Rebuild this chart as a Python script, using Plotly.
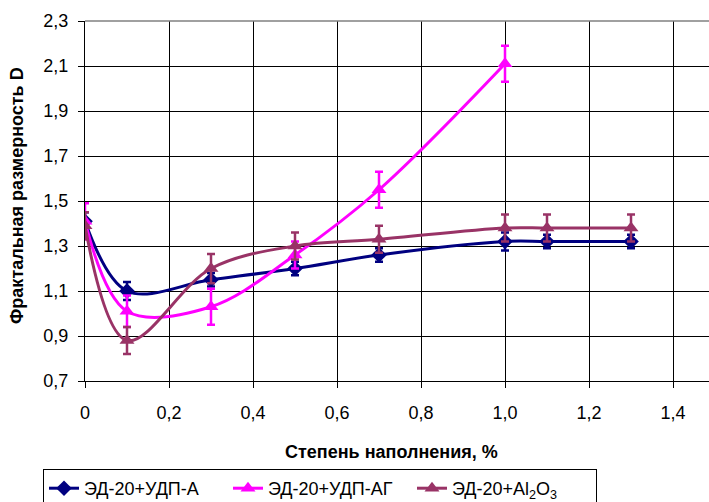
import plotly.graph_objects as go

x_a = [0, 0.1, 0.3, 0.5, 0.7, 1.0, 1.1, 1.3]
y_a = [1.41, 1.10, 1.15, 1.20, 1.26, 1.32, 1.32, 1.32]
e_a = [0.04, 0.04, 0.03, 0.03, 0.03, 0.04, 0.03, 0.03]

x_ag = [0, 0.1, 0.3, 0.5, 0.7, 1.0]
y_ag = [1.41, 1.01, 1.03, 1.26, 1.55, 2.11]
e_ag = [0.08, 0.07, 0.08, 0.06, 0.08, 0.08]

x_al = [0, 0.1, 0.3, 0.5, 0.7, 1.0, 1.1, 1.3]
y_al = [1.39, 0.88, 1.20, 1.30, 1.33, 1.38, 1.38, 1.38]
e_al = [0.06, 0.06, 0.065, 0.06, 0.06, 0.06, 0.06, 0.06]

names = ["ЭД-20+УДП-А", "ЭД-20+УДП-АГ", "ЭД-20+Al<sub>2</sub>O<sub>3</sub>"]
colors = ["#000080", "#FF00FF", "#993366"]
symbols = ["diamond", "triangle-up", "triangle-up"]

xticks = [0, 0.2, 0.4, 0.6, 0.8, 1.0, 1.2, 1.4]
xticktext = ["0", "0,2", "0,4", "0,6", "0,8", "1,0", "1,2", "1,4"]
yticks = [0.7, 0.9, 1.1, 1.3, 1.5, 1.7, 1.9, 2.1, 2.3]
yticktext = ["0,7", "0,9", "1,1", "1,3", "1,5", "1,7", "1,9", "2,1", "2,3"]

fig = go.Figure()
series = [(x_a, y_a, e_a), (x_ag, y_ag, e_ag), (x_al, y_al, e_al)]
for i, (xs, ys, es) in enumerate(series):
    fig.add_trace(go.Scatter(
        x=xs, y=ys, name=names[i], mode="lines+markers",
        line=dict(color=colors[i], width=3, shape="spline", smoothing=1.0),
        marker=dict(symbol=symbols[i], size=12 if i == 0 else 13, color=colors[i]),
        error_y=dict(type="data", array=es, visible=True, color=colors[i], thickness=2.5, width=4),
    ))

fig.update_layout(
    width=709, height=502,
    margin=dict(l=85, r=0, t=21, b=121),
    paper_bgcolor="white", plot_bgcolor="white",
    font=dict(family="Liberation Sans, Arial", size=18, color="black"),
    showlegend=True,
    legend=dict(
        orientation="h", xref="container", yref="container",
        x=43 / 709, y=1 - 469 / 502, xanchor="left", yanchor="top",
        bordercolor="black", borderwidth=1, font=dict(size=18),
        entrywidth=139, itemwidth=30, tracegroupgap=0,
    ),
    xaxis=dict(
        range=[0, 1.4857], tickvals=xticks, ticktext=xticktext,
        showgrid=True, gridcolor="black", gridwidth=1,
        showline=True, linecolor="black", linewidth=1,
        ticks="outside", ticklen=6, tickcolor="black",
        ticklabelstandoff=9, zeroline=False, tickfont=dict(size=18),
    ),
    yaxis=dict(
        range=[0.7, 2.3], tickvals=yticks, ticktext=yticktext,
        showgrid=True, gridcolor="black", gridwidth=1,
        showline=True, linecolor="black", linewidth=1,
        ticks="outside", ticklen=6, tickcolor="black",
        ticklabelstandoff=6, zeroline=False, tickfont=dict(size=18),
    ),
    shapes=[dict(type="line", xref="paper", yref="paper", x0=0, x1=1, y0=1, y1=1,
                 line=dict(color="#808080", width=1.5))],
    annotations=[
        dict(text="<b>Степень наполнения, %</b>", xref="paper", yref="paper",
             x=(391 - 85) / 624, y=(381 - 452) / 360, xanchor="center", yanchor="middle",
             showarrow=False, font=dict(size=18)),
        dict(text="<b>Фрактальная размерность D</b>", xref="paper", yref="paper",
             x=(17 - 85) / 624, y=(381 - 196) / 360, xanchor="center", yanchor="middle",
             textangle=-90, showarrow=False, font=dict(size=18)),
    ],
)

fig.write_html("out.html")
